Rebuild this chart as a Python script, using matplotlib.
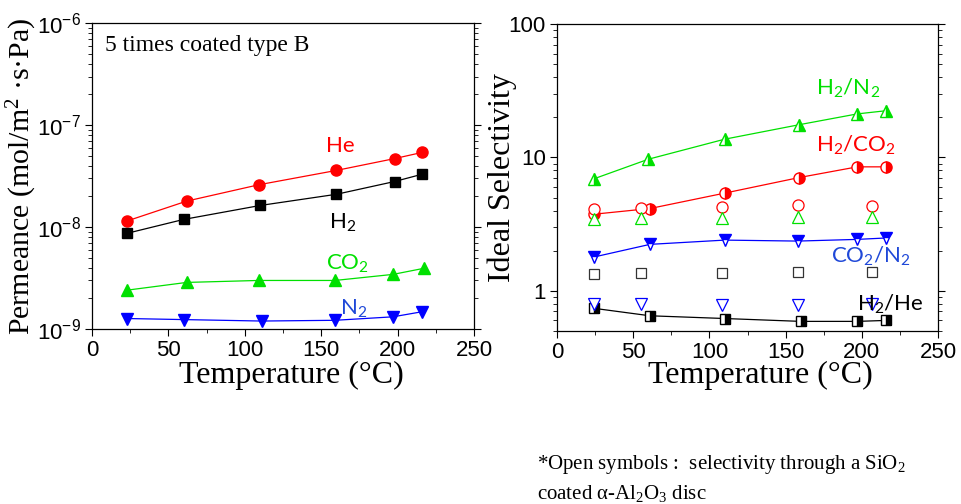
import numpy as np
import matplotlib
matplotlib.use('Agg')
import matplotlib.pyplot as plt
from matplotlib.ticker import LogLocator, FuncFormatter, MultipleLocator, NullFormatter

plt.rcParams['mathtext.default'] = 'regular'
plt.rcParams['font.family'] = ['Liberation Sans', 'DejaVu Sans']

# ~~~~ data ~~~~
temp_he = [23, 62, 109, 160, 198, 216]
perm_he = [1.15e-8, 1.8e-8, 2.6e-8, 3.6e-8, 4.7e-8, 5.4e-8]
temp_h2 = [23, 60, 110, 160, 198, 216]
perm_h2 = [8.7e-9, 1.19e-8, 1.63e-8, 2.1e-8, 2.8e-8, 3.3e-8]
temp_co2 = [23, 62, 109, 159, 197, 217]
perm_co2 = [2.41e-9, 2.87e-9, 3.0e-9, 3.0e-9, 3.44e-9, 3.94e-9]
temp_n2 = [23, 60, 111, 159, 197, 216]
perm_n2 = [1.27e-9, 1.24e-9, 1.2e-9, 1.22e-9, 1.32e-9, 1.48e-9]

sel_temp_h2n2 = [24, 60, 110, 159, 197, 216]
sel_h2n2 = [6.9, 9.7, 13.7, 17.6, 21.2, 22.4]
sel_temp_h2co2 = [24, 61, 110, 159, 197, 216]
sel_h2co2 = [3.75, 4.14, 5.4, 7.07, 8.5, 8.5]
sel_temp_co2n2 = [24, 61, 110, 158, 197, 216]
sel_co2n2 = [1.79, 2.23, 2.4, 2.36, 2.43, 2.49]
sel_temp_h2he = [24, 61, 110, 160, 197, 216]
sel_h2he = [0.74, 0.65, 0.62, 0.59, 0.59, 0.60]

# open symbols: SiO2 coated alpha-Al2O3 disc
disc_temp = [24, 55, 108, 158, 207]
disc_h2co2 = [4.14, 4.2, 4.25, 4.4, 4.36]
disc_h2n2 = [3.44, 3.5, 3.5, 3.6, 3.6]
disc_h2he = [1.33, 1.35, 1.35, 1.39, 1.39]
disc_co2n2 = [0.80, 0.79, 0.78, 0.78, 0.79]

RED = '#ff0000'
GREEN = '#00e000'
BLUE = '#0000ff'
TXT_BLUE = '#1f48d8'
SERIF = ['Liberation Serif', 'DejaVu Serif']
LBL = ['Lato', 'DejaVu Sans']

fig = plt.figure(figsize=(9.61, 5.04), dpi=100)
ax1 = fig.add_axes([0.0957, 0.347, 0.3975, 0.607])
ax2 = fig.add_axes([0.5796, 0.3433, 0.3965, 0.609])

def style_axis(ax):
	ax.set_xlim(0, 250)
	ax.xaxis.set_major_locator(MultipleLocator(50))
	ax.xaxis.set_minor_locator(MultipleLocator(25))
	ax.tick_params(which='both', direction='out', right=True, top=False, labelsize=16)
	ax.tick_params(which='major', length=5, pad=3)
	ax.tick_params(which='minor', length=3)
	ax.yaxis.set_minor_locator(LogLocator(base=10, subs=np.arange(2, 10)))
	ax.yaxis.set_minor_formatter(NullFormatter())
	ax.set_xlabel('Temperature (°C)', family=SERIF, fontsize=23)
	for sp in ax.spines.values():
		sp.set_linewidth(0.9)

# ---- left: permeance ----
ax1.set_yscale('log')
ax1.plot(temp_he, perm_he, color=RED, marker='o', ms=8, lw=0.9)
ax1.plot(temp_h2, perm_h2, color='black', marker='s', ms=7, lw=0.9)
ax1.plot(temp_co2, perm_co2, color=GREEN, marker='^', ms=8, lw=0.9)
ax1.plot(temp_n2, perm_n2, color=BLUE, marker='v', ms=8, lw=0.9)
ax1.set_ylim(1e-9, 1e-6)
style_axis(ax1)
ax1.set_ylabel('Permeance (mol/m$^2$ ·s·Pa)', family=SERIF, fontsize=21.5)
ax1.yaxis.set_label_coords(-0.139, 0.5)
ax1.xaxis.set_label_coords(0.521, -0.103)
ax1.text(0.034, 0.928, '5 times coated type B', transform=ax1.transAxes,
	family=SERIF, fontsize=17, va='center', ha='left')
ax1.text(153, 6.2e-8, 'He', color=RED, family=LBL, fontsize=16, va='center')
ax1.text(155, 1.1e-8, 'H$_2$', color='black', family=LBL, fontsize=16, va='center')
ax1.text(153, 4.4e-9, 'CO$_2$', color=GREEN, family=LBL, fontsize=16, va='center')
ax1.text(162, 1.58e-9, 'N$_2$', color=TXT_BLUE, family=LBL, fontsize=16, va='center')

# ---- right: selectivity ----
ax2.set_yscale('log')
half = dict(markerfacecoloralt='white', lw=0.9, ms=8)
ax2.plot(sel_temp_h2n2, sel_h2n2, color=GREEN, marker='^', fillstyle='right',
	markeredgecolor=GREEN, **half)
ax2.plot(sel_temp_h2co2, sel_h2co2, color=RED, marker='o', fillstyle='right',
	markeredgecolor=RED, **half)
ax2.plot(sel_temp_co2n2, sel_co2n2, color=BLUE, marker='v', fillstyle='top',
	markeredgecolor=BLUE, **half)
ax2.plot(sel_temp_h2he, sel_h2he, color='black', marker='s', fillstyle='right',
	markeredgecolor='black', markerfacecoloralt='white', lw=0.9, ms=7)

ax2.plot(disc_temp, disc_h2co2, ls='none', marker='o', ms=8, mfc='white', mec=RED, mew=0.9)
ax2.plot(disc_temp, disc_h2n2, ls='none', marker='^', ms=8, mfc='white', mec=GREEN, mew=0.9)
ax2.plot(disc_temp, disc_h2he, ls='none', marker='s', ms=7, mfc='white', mec='#333333', mew=0.9)
ax2.plot(disc_temp, disc_co2n2, ls='none', marker='v', ms=8, mfc='white', mec=BLUE, mew=0.9)

ax2.set_ylim(0.5, 100)
style_axis(ax2)
ax2.yaxis.set_major_formatter(FuncFormatter(lambda v, p: '%g' % v))
ax2.set_ylabel('Ideal Selectivity', family=SERIF, fontsize=23)
ax2.yaxis.set_label_coords(-0.105, 0.5)
ax2.xaxis.set_label_coords(0.535, -0.099)
ax2.text(170, 33, 'H$_2$/N$_2$', color=GREEN, family=LBL, fontsize=16, va='center')
ax2.text(170, 12.4, 'H$_2$/CO$_2$', color=RED, family=LBL, fontsize=16, va='center')
ax2.text(180, 1.8, 'CO$_2$/N$_2$', color=TXT_BLUE, family=LBL, fontsize=16, va='center')
ax2.text(197, 0.79, 'H$_2$/He', color='black', family=LBL, fontsize=16, va='center')

fig.text(537/961, 1 - 465/504, '*Open symbols :  selectivity through a SiO$_2$',
	family=SERIF, fontsize=15, va='center', ha='left')
fig.text(537/961, 1 - 493/504, 'coated α-Al$_2$O$_3$ disc',
	family=SERIF, fontsize=15, va='center', ha='left')

fig.savefig('out.png', dpi=100)
